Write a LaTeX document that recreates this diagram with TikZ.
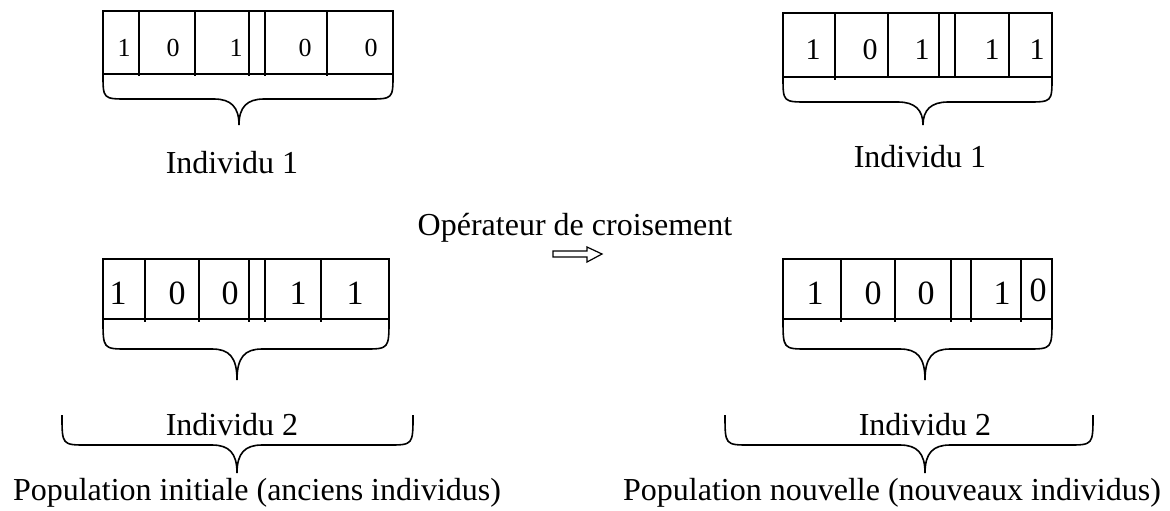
\documentclass[tikz,border=0pt]{standalone}
\usepackage{fontspec}
\setmainfont{Liberation Serif}
\usepackage{tikz}

% accolade : gauche, droite, pointe, haut, milieu, bas
\newcommand{\accolade}[6]{%
  \draw (#1,#4) .. controls (#1,#5) .. ({#1+25},#5) -- ({#3-25},#5)
    .. controls ({#3-8},#5) and (#3,{#5+8}) .. (#3,#6)
    .. controls (#3,{#5+8}) and ({#3+8},#5) .. ({#3+25},#5) -- ({#2-25},#5)
    .. controls (#2,#5) .. (#2,#4);}

\begin{document}
\begin{tikzpicture}[x=0.5pt,y=-0.5pt,line width=0.8pt,
  chiffre/.style={font=\fontsize{17}{17}\selectfont},
  moyen/.style={font=\fontsize{15}{15}\selectfont},
  petit/.style={font=\fontsize{13}{13}\selectfont},
  etiquette/.style={font=\fontsize{16}{16}\selectfont}]
  \useasboundingbox (0,0) rectangle (1170,510);

  % Individu 1 (ancien)
  \draw (103,11) rectangle (393,74);
  \foreach \x in {139,195,249,265,327} \draw (\x,11) -- (\x,76);
  \node[petit] (a11) at (124,48) {1};
  \node[petit] (a12) at (173,48) {0};
  \node[petit] (a13) at (236,48) {1};
  \node[petit] (a14) at (305,48) {0};
  \node[petit] (a15) at (371,48) {0};
  \accolade{103}{393}{239}{74}{99}{125}
  \node[etiquette] (ind1a) at (232,163) {Individu 1};

  % Individu 2 (ancien)
  \draw (103,259) rectangle (389,319);
  \foreach \x in {145,199,249,265,321} \draw (\x,259) -- (\x,322);
  \node[chiffre] (a21) at (118,293) {1};
  \node[chiffre] (a22) at (177,293) {0};
  \node[chiffre] (a23) at (230,293) {0};
  \node[chiffre] (a24) at (298,293) {1};
  \node[chiffre] (a25) at (355,293) {1};
  \accolade{103}{389}{237}{319}{349}{380}
  \node[etiquette] (ind2a) at (232,425) {Individu 2};
  \accolade{62}{413}{237}{415}{445}{473}
  \node[etiquette] (popa) at (257,493) {Population initiale (anciens individus)};

  % Operateur
  \node[etiquette] (op) at (575,228) {Opérateur de croisement};
  \draw[line width=0.6pt] (553,251) -- (587,251) -- (587,247) -- (602,254)
    -- (587,262) -- (587,257) -- (553,257) -- cycle;

  % Individu 1 (nouveau)
  \draw (783,13) rectangle (1052,77);
  \foreach \x in {835,888,939,955,1009} \draw (\x,13) -- (\x,77);
  \draw (835,77) -- (835,80);
  \node[moyen] (n11) at (813,50) {1};
  \node[moyen] (n12) at (870,50) {0};
  \node[moyen] (n13) at (922,50) {1};
  \node[moyen] (n14) at (992,50) {1};
  \node[moyen] (n15) at (1037,50) {1};
  \accolade{783}{1052}{923}{77}{102}{125}
  \node[etiquette] (ind1n) at (920,157) {Individu 1};

  % Individu 2 (nouveau)
  \draw (783,259) rectangle (1052,319);
  \foreach \x in {841,895,951,971,1021} \draw (\x,259) -- (\x,322);
  \node[chiffre] (n21) at (815,293) {1};
  \node[chiffre] (n22) at (873,293) {0};
  \node[chiffre] (n23) at (926,293) {0};
  \node[chiffre] (n24) at (1002,293) {1};
  \node[chiffre] (n25) at (1038,290) {0};
  \accolade{783}{1052}{925}{319}{349}{380}
  \node[etiquette] (ind2n) at (925,425) {Individu 2};
  \accolade{725}{1093}{925}{415}{445}{473}
  \node[etiquette] (popn) at (892,493) {Population nouvelle (nouveaux individus)};
\end{tikzpicture}
\end{document}
